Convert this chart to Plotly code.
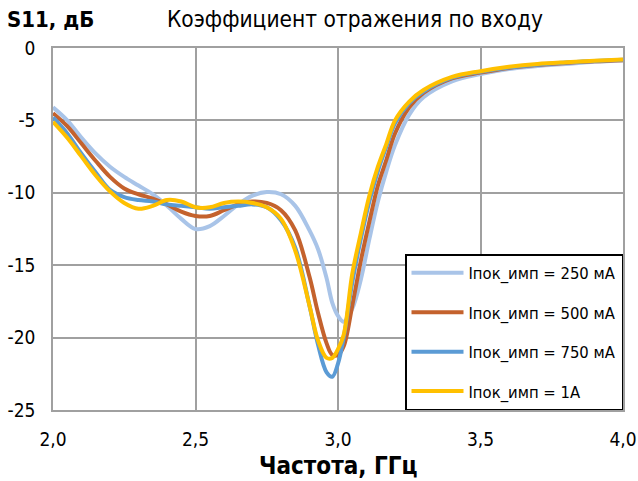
import plotly.graph_objects as go

freq = [2.0, 2.05, 2.1, 2.15, 2.2, 2.25, 2.3, 2.35, 2.4, 2.45, 2.5, 2.55, 2.6, 2.65, 2.7, 2.75, 2.8, 2.85,
        2.9, 2.93, 2.96, 2.98, 3.0, 3.02, 3.05, 3.08, 3.11, 3.14, 3.17, 3.2, 3.25, 3.3, 3.4, 3.5, 3.6, 3.7,
        3.8, 3.9, 4.0]

s11_250 = [-4.1, -5.0, -6.2, -7.3, -8.2, -8.9, -9.5, -10.1, -10.9, -11.8, -12.5, -12.3, -11.6, -10.8, -10.2,
           -9.95, -10.1, -10.9, -12.6, -13.9, -15.9, -17.6, -18.5, -18.9, -18.0, -16.0, -13.2, -10.6, -8.5,
           -6.7, -4.6, -3.4, -2.3, -1.8, -1.45, -1.25, -1.1, -0.95, -0.86]
s11_500 = [-4.5, -5.4, -6.6, -7.8, -8.9, -9.7, -10.1, -10.4, -10.8, -11.3, -11.6, -11.6, -11.2, -10.8, -10.6,
           -10.7, -11.2, -12.6, -15.8, -18.3, -20.4, -21.2, -21.2, -20.6, -17.8, -14.7, -12.0, -9.5, -7.7,
           -5.9, -4.1, -3.1, -2.1, -1.7, -1.38, -1.18, -1.03, -0.92, -0.84]
s11_750 = [-4.8, -5.9, -7.3, -8.6, -9.8, -10.3, -10.5, -10.6, -10.8, -10.9, -11.0, -11.1, -11.0, -10.9, -10.8,
           -11.0, -11.9, -13.8, -17.8, -20.5, -22.4, -22.7, -21.8, -20.0, -16.2, -13.2, -10.6, -8.5, -6.8,
           -5.2, -3.8, -3.0, -2.05, -1.65, -1.35, -1.15, -1.0, -0.9, -0.82]
s11_1a = [-5.1, -6.2, -7.5, -8.8, -9.9, -10.7, -11.1, -10.9, -10.5, -10.6, -11.0, -11.0, -10.7, -10.6, -10.7,
          -11.0, -11.8, -14.0, -17.8, -20.2, -21.4, -21.4, -20.8, -19.8, -15.6, -12.8, -10.2, -8.2, -6.6,
          -5.0, -3.7, -2.9, -2.0, -1.6, -1.3, -1.1, -0.98, -0.88, -0.8]

series_names = ["Iпок_имп = 250 мА", "Iпок_имп = 500 мА", "Iпок_имп = 750 мА", "Iпок_имп = 1А"]
series_vals = [s11_250, s11_500, s11_750, s11_1a]
colors = ["#A9C4E8", "#C4622D", "#5B9BD5", "#FFC000"]

x_ticks = [2.0, 2.5, 3.0, 3.5, 4.0]
x_ticktext = ["2,0", "2,5", "3,0", "3,5", "4,0"]
y_ticks = [0, -5, -10, -15, -20, -25]
y_ticktext = ["0", "-5", "-10", "-15", "-20", "-25"]

FONT = "DejaVu Sans Condensed, Liberation Sans Narrow, Roboto, sans-serif"

W, H = 638, 481
ML, MR, MT, MB = 53, 15, 48, 71
pw, ph = W - ML - MR, H - MT - MB


def px(xp):
    return (xp - ML) / pw


def py(yp):
    return 1 + (MT - yp) / ph


fig = go.Figure()
for i, (name, vals, col) in enumerate(zip(series_names, series_vals, colors)):
    fig.add_trace(go.Scatter(x=freq, y=vals, mode="lines", name=name, legendgroup=str(i),
                             line=dict(color=col, width=4, shape="spline", smoothing=1.0)))

fig.update_layout(
    width=W, height=H,
    margin=dict(l=ML, r=MR, t=MT, b=MB, autoexpand=False),
    paper_bgcolor="white", plot_bgcolor="white",
    font=dict(family=FONT, size=18, color="black"),
    showlegend=True,
    legend=dict(x=1, y=0, xanchor="right", yanchor="bottom", bgcolor="white",
                bordercolor="black", borderwidth=1.5, font=dict(size=16.5, family=FONT),
                tracegroupgap=15, itemwidth=52),
    annotations=[
        dict(text="<b>S11, дБ</b>", x=px(5), y=py(19), xref="paper", yref="paper", showarrow=False,
             xanchor="left", yanchor="middle", font=dict(size=22, family=FONT)),
        dict(text="Коэффициент отражения по входу", x=px(355), y=py(19), xref="paper", yref="paper",
             showarrow=False, xanchor="center", yanchor="middle", font=dict(size=22.5, family=FONT)),
        dict(text="<b>Частота, ГГц</b>", x=px(338), y=py(466), xref="paper", yref="paper",
             showarrow=False, xanchor="center", yanchor="middle", font=dict(size=24, family=FONT)),
    ],
)

fig.update_xaxes(range=[2.0, 4.0], tickvals=x_ticks, ticktext=x_ticktext, showgrid=True,
                 gridcolor="#A0A0A0", gridwidth=1.5, showline=True, linecolor="#A0A0A0", linewidth=1.5,
                 mirror=True, zeroline=False, ticks="", ticklabelstandoff=11, automargin=False,
                 tickfont=dict(size=19, family=FONT))
fig.update_yaxes(range=[-25, 0], tickvals=y_ticks, ticktext=y_ticktext, showgrid=True,
                 gridcolor="#A0A0A0", gridwidth=1.5, showline=True, linecolor="#A0A0A0", linewidth=1.5,
                 mirror=True, zeroline=False, ticks="", ticklabelstandoff=12, automargin=False,
                 tickfont=dict(size=19, family=FONT))

fig.write_html("out.html", config={"displayModeBar": False},
               post_script="document.body.style.margin='0';")
